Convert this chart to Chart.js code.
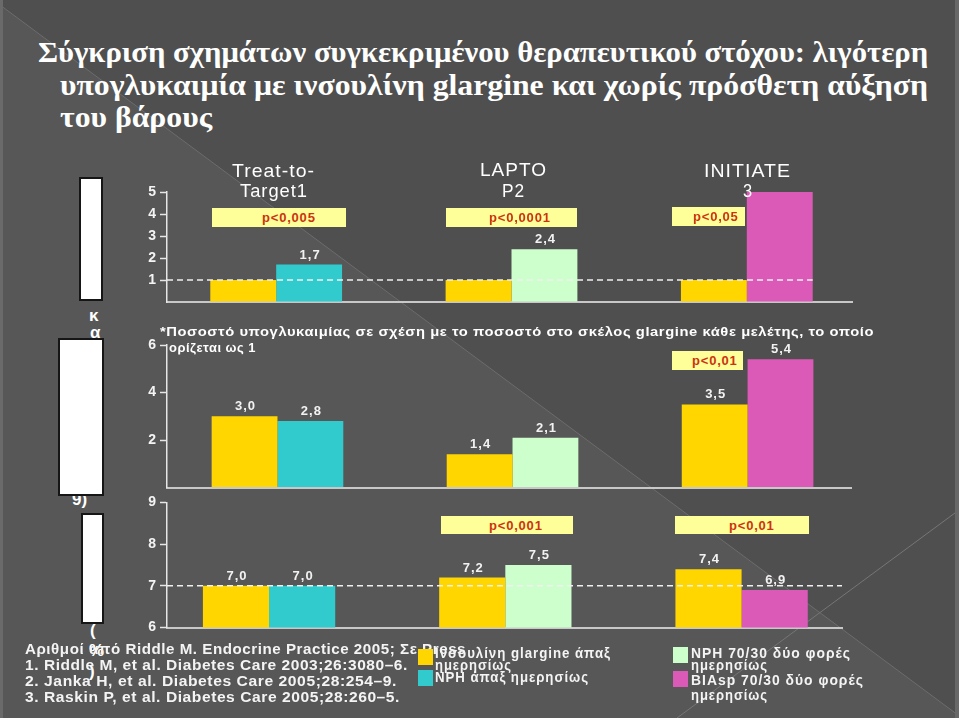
<!DOCTYPE html>
<html>
<head>
<meta charset="utf-8">
<script src="https://cdn.jsdelivr.net/npm/chart.js@4.4.1/dist/chart.umd.min.js"></script>
<style>
  body { margin: 0; width: 959px; height: 718px; overflow: hidden; position: relative; background: #4f4f4f; font-family: "Liberation Sans", Arial, sans-serif; }
  canvas { position: absolute; left: 0; }
  .t { position: absolute; white-space: nowrap; line-height: 1; color: #fff; transform-origin: 0 50%; transform: translateY(-50%); }
  .title { font-family: "Liberation Serif", "Times New Roman", serif; font-weight: bold; font-size: 30px; }
  .grp { font-size: 19px; letter-spacing: 1px; }
  .note { font-weight: bold; font-size: 13px; letter-spacing: 0.5px; }
  .ref { font-weight: bold; font-size: 14px; letter-spacing: 0.5px; color: #f4f4f4; }
  .leg { font-weight: bold; font-size: 14px; letter-spacing: 1px; color: #f4f4f4; }
  .frag { font-weight: bold; font-size: 17px; }
  .pbox { position: absolute; background: #ffff99; color: #cc3311; font-weight: bold; font-size: 13px; letter-spacing: 0.8px; display: flex; align-items: center; box-sizing: border-box; }
  .blank { position: absolute; background: #fff; border: 2px solid #161616; box-sizing: border-box; }
  .sw { position: absolute; width: 15px; height: 16px; }
</style>
</head>
<body>
<svg width="959" height="718" style="position:absolute;left:0;top:0">
  <polygon points="0,5 962,718 0,718" fill="#575757"/>
  <line x1="0" y1="5" x2="962" y2="718" stroke="#6c6c6c" stroke-width="1"/>
  <line x1="677" y1="718" x2="959" y2="510" stroke="#767676" stroke-width="1"/>
  <rect x="0" y="0" width="3" height="718" fill="#6a6a6a"/>
  <rect x="955" y="0" width="4" height="718" fill="#686868"/>
</svg>

<!-- hidden axis titles left over from the slide -->
<div class="t frag" style="left:89px;top:315px">κ</div>
<div class="t frag" style="left:90px;top:332px">α</div>
<div class="t frag" style="left:72px;top:499px">9)</div>
<div class="t frag" style="left:90px;top:630px">(</div>
<div class="t frag" style="left:89px;top:650px">%</div>
<div class="t frag" style="left:89px;top:671px">)</div>
<div class="blank" style="left:79px;top:177px;width:24px;height:124px"></div>
<div class="blank" style="left:58px;top:338px;width:46px;height:158px"></div>
<div class="blank" style="left:81px;top:513px;width:23px;height:111px"></div>

<canvas id="hypoChart" width="959" height="170" style="top:150px"></canvas>
<canvas id="weightChart" width="959" height="190" style="top:310px"></canvas>
<canvas id="a1cChart" width="959" height="150" style="top:490px"></canvas>

<div class="t title" style="left:38px;top:52px" data-w="890">Σύγκριση σχημάτων συγκεκριμένου θεραπευτικού στόχου: λιγότερη</div>
<div class="t title" style="left:60px;top:85px" data-w="868">υπογλυκαιμία με ινσουλίνη glargine και χωρίς πρόσθετη αύξηση</div>
<div class="t title" style="left:60px;top:117px" data-w="152">του βάρους</div>

<div class="t grp" style="left:232px;top:170px" data-w="83">Treat-to-</div>
<div class="t grp" style="left:240px;top:190px" data-w="68">Target1</div>
<div class="t grp" style="left:480px;top:169px" data-w="67">LAPTO</div>
<div class="t grp" style="left:502px;top:190px" data-w="23">P2</div>
<div class="t grp" style="left:704px;top:170px" data-w="87">INITIATE</div>
<div class="t grp" style="left:743px;top:190px" data-w="10">3</div>

<div class="pbox" style="left:212px;top:208px;width:134px;height:19px;padding-left:50px">p&lt;0,005</div>
<div class="pbox" style="left:446px;top:208px;width:131px;height:19px;padding-left:43px">p&lt;0,0001</div>
<div class="pbox" style="left:672px;top:207px;width:73px;height:19px;padding-left:21px">p&lt;0,05</div>
<div class="pbox" style="left:672px;top:351px;width:71px;height:19px;padding-left:20px">p&lt;0,01</div>
<div class="pbox" style="left:441px;top:516px;width:132px;height:18px;padding-left:48px">p&lt;0,001</div>
<div class="pbox" style="left:675px;top:516px;width:134px;height:18px;padding-left:54px">p&lt;0,01</div>

<div class="t note" style="left:160px;top:331px" data-w="714">*Ποσοστό υπογλυκαιμίας σε σχέση με το ποσοστό στο σκέλος glargine κάθε μελέτης, το οποίο</div>
<div class="t note" style="left:169px;top:347px" data-w="87">ορίζεται ως 1</div>

<div class="t ref" style="left:25px;top:649px" data-w="441">Αριθμοί από Riddle M. Endocrine Practice 2005; Σε Press</div>
<div class="t ref" style="left:25px;top:665px" data-w="383">1. Riddle M, et al. Diabetes Care 2003;26:3080–6.</div>
<div class="t ref" style="left:25px;top:681px" data-w="372">2. Janka H, et al. Diabetes Care 2005;28:254–9.</div>
<div class="t ref" style="left:25px;top:697px" data-w="375">3. Raskin P, et al. Diabetes Care 2005;28:260–5.</div>

<div class="sw" style="left:418px;top:649px;background:#ffd600"></div>
<div class="sw" style="left:418px;top:670px;background:#31cbcd"></div>
<div class="sw" style="left:673px;top:647px;background:#ccffcc"></div>
<div class="sw" style="left:673px;top:671px;background:#dc5ab7"></div>
<div class="t leg" style="left:435px;top:653px" data-w="176">Ινσουλίνη glargine άπαξ</div>
<div class="t leg" style="left:435px;top:665px" data-w="77">ημερησίως</div>
<div class="t leg" style="left:435px;top:677px" data-w="154">NPH άπαξ ημερησίως</div>
<div class="t leg" style="left:691px;top:653px" data-w="160">NPH 70/30 δύο φορές</div>
<div class="t leg" style="left:691px;top:665px" data-w="77">ημερησίως</div>
<div class="t leg" style="left:691px;top:680px" data-w="173">BIAsp 70/30 δύο φορές</div>
<div class="t leg" style="left:691px;top:695px" data-w="77">ημερησίως</div>

<script>
// studies: Treat-to-Target, LAPTOP, INITIATE
const studyIndex = [0, 1, 2];
const hypoGlargine = [1.0, 1.0, 1.0];
const hypoComparator = [1.7, 2.4, 5.0];
const weightGlargine = [3.0, 1.4, 3.5];
const weightComparator = [2.8, 2.1, 5.4];
const a1cGlargine = [7.0, 7.2, 7.4];
const a1cComparator = [7.0, 7.5, 6.9];
const hypoReference = 1;
const a1cTarget = 7;

const glargineColor = '#ffd600';
const comparatorColors = ['#31cbcd', '#ccffcc', '#dc5ab7'];

function fmt(v) {
    return v.toFixed(1).replace('.', ',');
}

function refLinePlugin(value, toLastBar) {
    return {
        id: 'refLine',
        afterDatasetsDraw(chart) {
            if (value == null) return;
            let ctx = chart.ctx;
            let area = chart.chartArea;
            let y = chart.scales.y.getPixelForValue(value);
            let x2 = area.right;
            if (toLastBar) {
                let bars = chart.getDatasetMeta(1).data;
                let b = bars[bars.length - 1];
                x2 = b.x + b.width / 2;
            }
            ctx.save();
            ctx.strokeStyle = '#f0f0f0';
            ctx.lineWidth = 1.5;
            ctx.setLineDash([6, 4]);
            ctx.beginPath();
            ctx.moveTo(area.left, y);
            ctx.lineTo(x2, y);
            ctx.stroke();
            ctx.restore();
        }
    };
}

function valueLabelsPlugin(shown) {
    return {
        id: 'valueLabels',
        afterDatasetsDraw(chart) {
            let ctx = chart.ctx;
            ctx.save();
            ctx.font = 'bold 13px "Liberation Sans", Arial, sans-serif';
            ctx.letterSpacing = '1px';
            ctx.fillStyle = '#f2f2f2';
            ctx.textAlign = 'center';
            ctx.textBaseline = 'bottom';
            chart.data.datasets.forEach((ds, d) => {
                chart.getDatasetMeta(d).data.forEach((bar, i) => {
                    if (!shown[d][i]) return;
                    ctx.fillText(fmt(ds.data[i].y), bar.x + 1, bar.y - 3);
                });
            });
            ctx.restore();
        }
    };
}

function makeChart(id, glargine, comparator, cfg) {
    let points = vals => vals.map((v, i) => ({ x: studyIndex[i], y: v }));
    return new Chart(document.getElementById(id), {
        type: 'bar',
        data: {
            datasets: [
                { label: 'Ινσουλίνη glargine', data: points(glargine), backgroundColor: glargineColor,
                  categoryPercentage: 0.56, barPercentage: 1, borderWidth: 0 },
                { label: 'Συγκριτής', data: points(comparator), backgroundColor: comparatorColors,
                  categoryPercentage: 0.56, barPercentage: 1, borderWidth: 0 }
            ]
        },
        options: {
            responsive: false,
            animation: false,
            layout: { padding: cfg.padding },
            plugins: { legend: { display: false }, tooltip: { enabled: false } },
            scales: {
                x: {
                    type: 'linear', min: cfg.xMin, max: cfg.xMax, offset: false,
                    // one tick per study, so bar width comes from the study spacing
                    ticks: { display: false, stepSize: 1, includeBounds: false },
                    grid: { display: true, offset: false, drawOnChartArea: false, drawTicks: false },
                    border: { color: '#c8c8c8', width: 2 },
                    afterFit: s => { s.height = 0; }
                },
                y: {
                    min: cfg.yMin, max: cfg.yMax,
                    ticks: {
                        stepSize: cfg.step, color: '#f4f4f4', padding: 4,
                        font: { family: 'Arial', size: 14, weight: 'bold' },
                        callback: v => (v === cfg.hideTick ? '' : v)
                    },
                    grid: {
                        drawOnChartArea: false, tickLength: 7, tickWidth: 1.5,
                        tickColor: c => (c.tick && c.tick.value === cfg.hideTick ? 'rgba(0,0,0,0)' : '#e6e6e6')
                    },
                    border: { color: '#e6e6e6', width: 1.5 },
                    afterFit: s => { s.width = 167; }
                }
            }
        },
        plugins: [refLinePlugin(cfg.ref, cfg.toLastBar), valueLabelsPlugin(cfg.shown)]
    });
}

makeChart('hypoChart', hypoGlargine, hypoComparator, {
    padding: { top: 42, bottom: 18, left: 0, right: 107 },
    xMin: -0.464, xMax: 2.447, yMin: 0, yMax: 5, step: 1, hideTick: 0,
    ref: hypoReference, toLastBar: true,
    shown: [[false, false, false], [true, true, false]]
});

makeChart('weightChart', weightGlargine, weightComparator, {
    padding: { top: 35, bottom: 9, left: 0, right: 108 },
    xMin: -0.470, xMax: 2.440, yMin: 0, yMax: 6, step: 2, hideTick: 0,
    ref: null, toLastBar: false,
    shown: [[true, true, true], [true, true, true]]
});

makeChart('a1cChart', a1cGlargine, a1cComparator, {
    padding: { top: 10, bottom: 7, left: 0, right: 117 },
    xMin: -0.432, xMax: 2.425, yMin: 6, yMax: 9, step: 1, hideTick: null,
    ref: a1cTarget, toLastBar: false,
    shown: [[true, true, true], [true, true, true]]
});

// stretch text lines to the widths they have on the slide
document.querySelectorAll('[data-w]').forEach(el => {
    let w = el.getBoundingClientRect().width;
    let k = Number(el.dataset.w) / w;
    el.style.transform = 'translateY(-50%) scaleX(' + k.toFixed(3) + ')';
});
</script>
</body>
</html>
